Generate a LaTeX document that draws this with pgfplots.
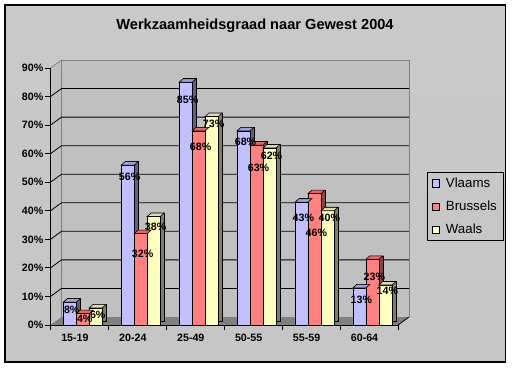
\documentclass[border=0pt]{standalone}
\usepackage{fontspec}
\setmainfont{Liberation Sans}
\usepackage{pgfplots}
\usepackage{pgfplotstable}
\pgfplotsset{compat=1.18}
\definecolor{vfront}{HTML}{C0C0FF}
\definecolor{vside}{HTML}{5F5F88}
\definecolor{vtop}{HTML}{A0A0DA}
\definecolor{bfront}{HTML}{FF8080}
\definecolor{bside}{HTML}{8A4545}
\definecolor{btop}{HTML}{D86A6A}
\definecolor{wfront}{HTML}{FFFFC0}
\definecolor{wside}{HTML}{808060}
\definecolor{wtop}{HTML}{DCDCA8}
\definecolor{wallc}{HTML}{C0C0C0}
\definecolor{floorc}{HTML}{808080}

\pgfdeclareplotmark{topface}{%
  \pgfpathmoveto{\pgfqpoint{-6.5pt}{0pt}}%
  \pgfpathlineto{\pgfqpoint{6.5pt}{0pt}}%
  \pgfpathlineto{\pgfqpoint{10.5pt}{3.5pt}}%
  \pgfpathlineto{\pgfqpoint{-2.5pt}{3.5pt}}%
  \pgfpathclose
  \pgfusepathqfillstroke}

\pgfplotstableread{
x v
0 8
1 56
2 85
3 68
4 43
5 13
}\vlaams
\pgfplotstableread{
x v
0 4
1 32
2 68
3 63
4 46
5 23
}\brussels
\pgfplotstableread{
x v
0 6
1 38
2 73
3 62
4 40
5 14
}\waals
% label positions (y) and values (v)
\pgfplotstableread{
x y v
0 5.25 8
1 51.9 56
2 78.8 85
3 64.2 68
4 37.7 43
5 8.8 13
}\vlab
\pgfplotstableread{
x y v
0 2.3 4
1 24.9 32
2 62.5 68
3 54.9 63
4 32.3 46
5 16.9 23
}\blab
\pgfplotstableread{
x y v
0 3.5 6
1 34.4 38
2 70.6 73
3 59.2 62
4 37.4 40
5 11.9 14
}\wlab

\begin{document}
\begin{tikzpicture}[x=1pt,y=1pt]
% page and chart area
\fill[white] (0,0) rectangle (512,368);
\shade[top color=gray!42, middle color=gray!6, bottom color=gray!45] (5,6) rectangle (505.5,363);
\draw[line width=1.1pt] (5,6) rectangle (505.5,363);
% title
\node[font=\bfseries\fontsize{14.6}{16}\selectfont] at (255,342.5) {Werkzaamheidsgraad naar Gewest 2004};
% walls and floor
\fill[wallc] (50.5,43) -- (61.5,51) -- (61.5,308) -- (50.5,300) -- cycle;
\fill[wallc] (61.5,51) rectangle (409,308);
\fill[floorc] (50.5,43) -- (398,43) -- (409,51) -- (61.5,51) -- cycle;
\draw[gray, line width=0.8pt] (61.5,51) -- (61.5,308) -- (409,308) -- (409,51);
\draw[gray, line width=0.8pt] (50.5,300) -- (61.5,308);
\foreach \k in {1,...,8}{
  \draw[black, line width=0.8pt] (50.5,43+28.556*\k) -- (61.5,51+28.556*\k) -- (409,51+28.556*\k);
}
\draw[black, line width=0.8pt] (398,43) -- (409,51);

\begin{axis}[
  at={(50.5pt,43pt)}, anchor=south west,
  scale only axis, width=347.5pt, height=257pt,
  xmin=-0.5, xmax=5.5, ymin=0, ymax=90,
  clip=false,
  axis lines*=left,
  axis line style={black, line width=0.8pt, -},
  xtick={0,...,5},
  xticklabels={15-19,20-24,25-49,50-55,55-59,60-64},
  major x tick style={draw=none},
  minor xtick={-0.5,0.5,...,5.5},
  minor tick length=5pt,
  major tick length=5pt,
  tick align=outside,
  tick style={black, line width=0.8pt},
  ytick={0,10,...,90},
  yticklabel={\pgfmathprintnumber{\tick}\%},
  /pgf/number format/assume math mode=true,
  tick label style={font=\bfseries\fontsize{10.67}{12}\selectfont},
  yticklabel style={anchor=east, inner sep=0pt, xshift=-2pt},
  xticklabel style={anchor=north, inner sep=0pt, xshift=-4.5pt, yshift=-4pt},
  legend style={at={(1.0826,0.595)}, anchor=north west, draw=black, line width=0.8pt, fill=none,
     font=\fontsize{13.3}{15}\selectfont, inner xsep=4.5pt, inner ysep=3.5pt, row sep=8pt, column sep=4pt,
     cells={anchor=west}},
  legend image code/.code={\draw[#1, draw=black, line width=0.6pt] (0pt,-3.8pt) rectangle (7.7pt,3.8pt);},
  bar width=13pt,
  labstyle/.style={draw=none, mark=none, point meta=\thisrow{v},
     nodes near coords={\pgfmathprintnumber{\pgfplotspointmeta}\%},
     nodes near coords align=center,
     every node near coord/.append style={font=\bfseries\fontsize{10.67}{12}\selectfont, inner sep=0pt},
     forget plot},
]
% Vlaams
\addplot[ybar, bar shift=-9.7pt, fill=vside, draw=black, line width=0.6pt, xshift=4pt, yshift=3.5pt, forget plot] table[x=x,y=v]{\vlaams};
\addplot[ybar, bar shift=-9.7pt, fill=vfront, draw=black, line width=0.6pt] table[x=x,y=v]{\vlaams};
\addlegendentry{Vlaams}
\addplot[only marks, mark=topface, mark options={fill=vtop, draw=black, line width=0.6pt}, xshift=-9.7pt, forget plot] table[x=x,y=v]{\vlaams};
% Brussels
\addplot[ybar, bar shift=3.3pt, fill=bside, draw=black, line width=0.6pt, xshift=4pt, yshift=3.5pt, forget plot] table[x=x,y=v]{\brussels};
\addplot[ybar, bar shift=3.3pt, fill=bfront, draw=black, line width=0.6pt] table[x=x,y=v]{\brussels};
\addlegendentry{Brussels}
\addplot[only marks, mark=topface, mark options={fill=btop, draw=black, line width=0.6pt}, xshift=3.3pt, forget plot] table[x=x,y=v]{\brussels};
% Waals
\addplot[ybar, bar shift=16.3pt, fill=wside, draw=black, line width=0.6pt, xshift=4pt, yshift=3.5pt, forget plot] table[x=x,y=v]{\waals};
\addplot[ybar, bar shift=16.3pt, fill=wfront, draw=black, line width=0.6pt] table[x=x,y=v]{\waals};
\addlegendentry{Waals}
\addplot[only marks, mark=topface, mark options={fill=wtop, draw=black, line width=0.6pt}, xshift=16.3pt, forget plot] table[x=x,y=v]{\waals};
% data labels
\addplot[labstyle, xshift=-7.7pt] table[x=x,y=y]{\vlab};
\addplot[labstyle, xshift=5.3pt] table[x=x,y=y]{\blab};
\addplot[labstyle, xshift=18.3pt] table[x=x,y=y]{\wlab};
\end{axis}
\end{tikzpicture}
\end{document}
